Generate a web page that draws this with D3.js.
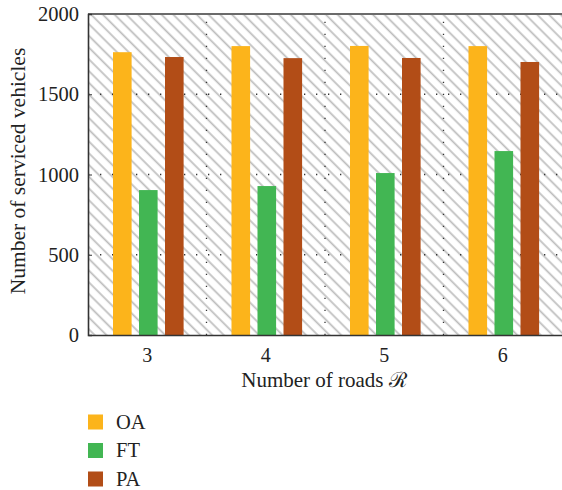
<!DOCTYPE html>
<html lang="en">
<head>
<meta charset="utf-8">
<title>Serviced vehicles</title>
<script src="https://d3js.org/d3.v7.min.js"></script>
<style>
  body { margin: 0; background: #fff; }
  text { font-family: "Liberation Serif", "DejaVu Serif", serif; fill: #222; }
</style>
</head>
<body>
<script>
// data
var roads = ["3", "4", "5", "6"];
var seriesNames = ["OA", "FT", "PA"];
var oaValues = [1762, 1800, 1801, 1800];
var ftValues = [903, 928, 1009, 1146];
var paValues = [1732, 1725, 1726, 1701];
var yTicks = [0, 500, 1000, 1500, 2000];
var colors = ["#fcb41b", "#42b653", "#b24d17"];

var W = 562, H = 490;
var margin = {left: 88, top: 14, right: 0, bottom: 155};

var svg = d3.select("body").append("svg")
    .attr("width", W).attr("height", H);

var x = d3.scaleBand().domain(roads).range([margin.left, W - margin.right]);
var xs = d3.scaleBand().domain(seriesNames).range([25, 25 + 3 * 26 - 7.4]).paddingInner(7.4 / 26);
var y = d3.scaleLinear().domain([0, 2000]).range([H - margin.bottom, margin.top]);

// hatch background
var defs = svg.append("defs");
var pat = defs.append("pattern")
    .attr("id", "hatch")
    .attr("patternUnits", "userSpaceOnUse")
    .attr("width", 8.3).attr("height", 8.3)
    .attr("patternTransform", "rotate(45)");
pat.append("rect").attr("width", 8.3).attr("height", 8.3).attr("fill", "#fff");
pat.append("line")
    .attr("x1", 0).attr("y1", 4).attr("x2", 8.3).attr("y2", 4)
    .attr("stroke", "#bdbdbd").attr("stroke-width", 1.7);

svg.append("rect")
    .attr("x", margin.left).attr("y", margin.top)
    .attr("width", W - margin.right - margin.left)
    .attr("height", y(0) - y(2000))
    .attr("fill", "url(#hatch)");

// dotted grid
svg.append("g").selectAll("line")
    .data([500, 1000, 1500])
    .join("line")
    .attr("x1", margin.left).attr("x2", W)
    .attr("y1", d => y(d)).attr("y2", d => y(d))
    .attr("stroke", "#333").attr("stroke-width", 1.3)
    .attr("stroke-dasharray", "1.3,10.7");

svg.append("g").selectAll("line")
    .data(roads.slice(1))
    .join("line")
    .attr("x1", d => x(d)).attr("x2", d => x(d))
    .attr("y1", y(0)).attr("y2", y(2000))
    .attr("stroke", "#333").attr("stroke-width", 1.3)
    .attr("stroke-dasharray", "1.3,10.7");

// bars
var rows = roads.map(function(r, i) {
  return {road: r, vals: [oaValues[i], ftValues[i], paValues[i]]};
});

var grp = svg.append("g").selectAll("g")
    .data(rows)
    .join("g")
    .attr("transform", d => "translate(" + x(d.road) + ",0)");

grp.selectAll("rect")
    .data(d => d.vals.map((v, j) => ({name: seriesNames[j], v: v, c: colors[j]})))
    .join("rect")
    .attr("x", d => xs(d.name))
    .attr("width", xs.bandwidth())
    .attr("y", d => y(d.v))
    .attr("height", d => y(0) - y(d.v))
    .attr("fill", d => d.c);

// frame
svg.append("line")
    .attr("x1", margin.left).attr("x2", W)
    .attr("y1", y(2000)).attr("y2", y(2000))
    .attr("stroke", "#6b6b6b").attr("stroke-width", 2);

// axes
var yAxis = svg.append("g")
    .attr("transform", "translate(" + margin.left + ",0)")
    .call(d3.axisLeft(y).tickValues(yTicks).tickSize(-4).tickPadding(9).tickFormat(d3.format("d")));
yAxis.select(".domain").attr("stroke", "#333").attr("stroke-width", 1.6);
yAxis.selectAll(".tick line").attr("stroke", "#333");
yAxis.selectAll("text").attr("font-size", 20.5).attr("fill", "#222")
    .attr("font-family", "Liberation Serif");

var xAxis = svg.append("g")
    .attr("transform", "translate(0," + y(0) + ")")
    .call(d3.axisBottom(x).tickSize(0).tickPadding(13));
xAxis.select(".domain").attr("stroke", "#333").attr("stroke-width", 1.6);
xAxis.selectAll("text").attr("font-size", 20).attr("fill", "#222")
    .attr("font-family", "Liberation Serif");

// axis titles
svg.append("text")
    .attr("x", 324).attr("y", 387)
    .attr("text-anchor", "middle")
    .attr("font-size", 21)
    .text("Number of roads \u211B");

svg.append("text")
    .attr("transform", "translate(25,171) rotate(-90)")
    .attr("text-anchor", "middle")
    .attr("font-size", 21.5)
    .text("Number of serviced vehicles");

// legend
var leg = svg.append("g").selectAll("g")
    .data(seriesNames)
    .join("g")
    .attr("transform", (d, i) => "translate(88," + (414.5 + i * 28.5) + ")");
leg.append("rect")
    .attr("width", 15).attr("height", 15)
    .attr("fill", (d, i) => colors[i]);
leg.append("text")
    .attr("x", 28).attr("y", 14)
    .attr("font-size", 20.5)
    .text(d => d);
</script>
</body>
</html>
